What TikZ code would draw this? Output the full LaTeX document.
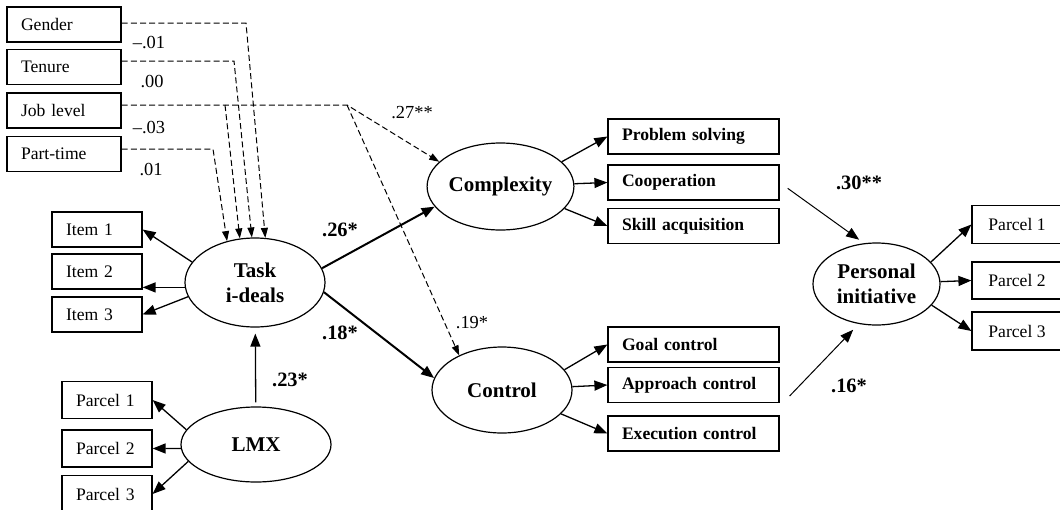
\documentclass[tikz,border=0pt]{standalone}
\usepackage{fontspec}
\setmainfont{Liberation Serif}
\usetikzlibrary{shapes.geometric,arrows.meta}

\tikzset{
  var/.style={draw, line width=0.6pt, minimum height=17.5pt, inner xsep=7pt, inner ysep=0pt, align=left, font=\fontsize{8.8}{10}\selectfont},
  bvar/.style={var, font=\fontsize{8.8}{10}\selectfont\bfseries},
  latent/.style={draw, ellipse, line width=0.6pt, inner sep=0pt, align=center, font=\fontsize{10.5}{12.5}\selectfont\bfseries},
  load/.style={line width=0.65pt, -{Triangle[length=6.5pt,width=5pt]}},
  mainpath/.style={line width=1pt, -{Triangle[length=6.5pt,width=5pt]}},
  covpath/.style={line width=0.5pt, dash pattern=on 3pt off 1.6pt, -{Triangle[length=5pt,width=3.5pt]}},
  coef/.style={font=\fontsize{9.2}{10}\selectfont},
  bcoef/.style={font=\fontsize{10.2}{11}\selectfont\bfseries},
}

\begin{document}
\begin{tikzpicture}[x=0.5pt,y=-0.5pt]
\useasboundingbox (0,0) rectangle (1060,509);

% control variables
\node[var, text width=43pt] (gender) at (64,24.5) {Gender};
\node[var, text width=43pt] (tenure) at (64,67) {Tenure};
\node[var, text width=43pt] (joblevel) at (64,110.5) {Job level};
\node[var, text width=43pt] (parttime) at (64,154) {Part-time};

% latent variables
\node[latent, minimum width=70pt, minimum height=44.5pt] (task) at (255,282.5) {Task\\i-deals};
\node[latent, minimum width=75pt, minimum height=37.5pt] (lmx) at (256,444.5) {LMX};
\node[latent, minimum width=69.5pt, minimum height=43.5pt] (cplx) at (500.5,186.5) {Complexity};
\node[latent, minimum width=70pt, minimum height=43pt] (control) at (502,390) {Control};
\node[latent, minimum width=63.5pt, minimum height=41pt] (pi) at (876.5,284) {Personal\\initiative};

% indicators
\node[var, text width=31pt] (item1) at (97,229.5) {Item 1};
\node[var, text width=31pt] (item2) at (97,271.5) {Item 2};
\node[var, text width=31pt] (item3) at (97,314.5) {Item 3};

\node[var, text width=31pt, minimum height=18.5pt] (lmxp1) at (107,400) {Parcel 1};
\node[var, text width=31pt, minimum height=18.5pt] (lmxp2) at (107,448.5) {Parcel 2};
\node[var, text width=31pt, minimum height=18.5pt] (lmxp3) at (107,494) {Parcel 3};

\node[bvar, text width=71.5pt] (prob) at (693.5,136.5) {Problem solving};
\node[bvar, text width=71.5pt] (coop) at (693.5,182.5) {Cooperation};
\node[bvar, text width=71.5pt] (skill) at (693.5,226) {Skill acquisition};

\node[bvar, text width=71.5pt] (goal) at (693.5,344.5) {Goal control};
\node[bvar, text width=71.5pt] (appr) at (693.5,385) {Approach control};
\node[bvar, text width=71.5pt] (exec) at (693.5,433.5) {Execution control};

\node[var, minimum width=45pt, minimum height=19pt] (pp1) at (1017,224.5) {Parcel 1};
\node[var, minimum width=45pt, minimum height=18.5pt] (pp2) at (1017,280.5) {Parcel 2};
\node[var, minimum width=45pt, minimum height=19pt] (pp3) at (1017,331) {Parcel 3};

% loadings
\draw[load] (task.162) -- (item1.east);
\draw[load] (task.184) -- (task.184 -| item2.east);
\draw[load] (task.192) -- (item3.east);

\draw[load] (lmx.168) -- (lmxp1.east);
\draw[load] (lmx.183) -- (lmxp2.east);
\draw[load] (lmx.194) -- (lmxp3.east);

\draw[load] (cplx.22) -- (prob.west);
\draw[load] (cplx) -- (coop.west);
\draw[load] (cplx.-19) -- (skill.west);

\draw[load] (control.18) -- (goal.west);
\draw[load] (control) -- (appr.west);
\draw[load] (control.-22) -- (exec.west);

\draw[load] (pi.22) -- (pp1.west);
\draw[load] (pi) -- (pp2.west);
\draw[load] (pi.-21) -- (pp3.west);

% structural paths
\draw[load, shorten <=2pt, shorten >=3pt] (lmx) -- (task);
\draw[mainpath] (task.12) -- (cplx.197);
\draw[mainpath] (task.-8) -- (control.170);
\draw[line width=0.5pt, -{Triangle[length=6.5pt,width=5pt]}, shorten <=5pt, shorten >=3pt] (coop.east) -- (pi.107);
\draw[line width=0.5pt, -{Triangle[length=6.5pt,width=5pt]}, shorten >=4pt] ([xshift=5pt,yshift=-5.5pt]appr.east) -- (pi.246);

% control paths (dashed)
\coordinate (gbend) at (246,23);
\coordinate (tbend) at (234,61);
\coordinate (jbend) at (225,105);
\coordinate (jsplit) at (347,105);
\coordinate (pbend) at (213,149);

\draw[covpath] (gender.east |- gbend) -- (gbend) -- (task.77);
\draw[covpath] (tenure.east |- tbend) -- (tbend) -- (task.94);
\draw[covpath] (jbend) -- (task.109);
\draw[covpath] (joblevel.east |- jbend) -- (jsplit) -- (cplx.158);
\draw[covpath] (jsplit) -- (control.141);
\draw[covpath] (parttime.east |- pbend) -- (pbend) -- (task.124);

% coefficients
\node[coef] (cgender) at (149,43) {--.01};
\node[coef] (ctenure) at (152,82) {.00};
\node[coef] (cjob) at (149,128) {--.03};
\node[coef] (cpart) at (151,170) {.01};
\node[coef] (cjcplx) at (412,113) {.27**};
\node[coef] (cjctrl) at (472,323) {.19*};

\node[bcoef] (ccplx) at (340,230) {.26*};
\node[bcoef] (cctrl) at (340,333) {.18*};
\node[bcoef] (clmx) at (290,380) {.23*};
\node[bcoef] (ccoop) at (859,183) {.30**};
\node[bcoef] (cappr) at (849,386) {.16*};

\end{tikzpicture}
\end{document}
